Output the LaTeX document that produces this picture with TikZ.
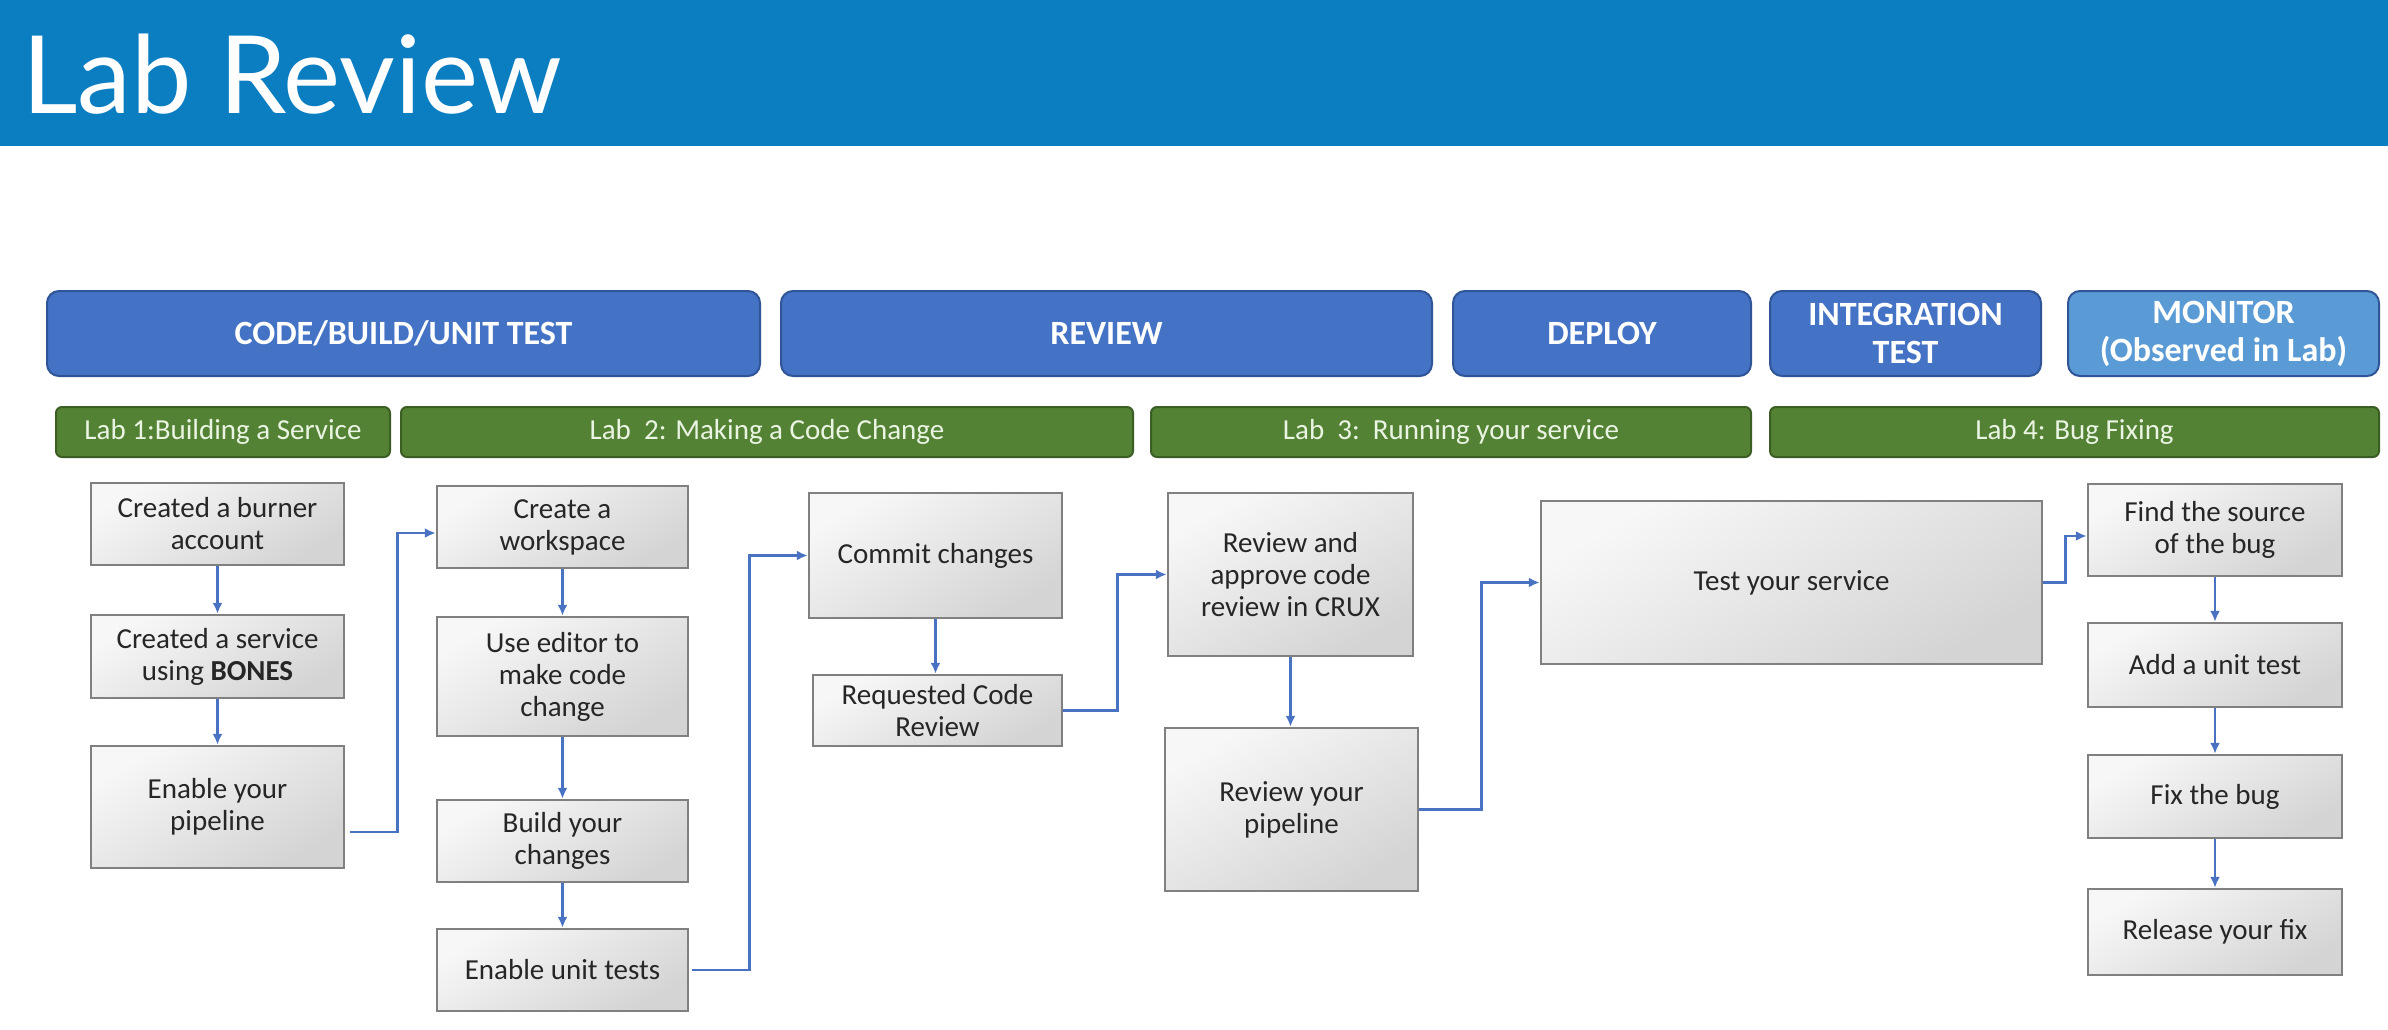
\documentclass[tikz,border=0pt]{standalone}
\usepackage{fontspec}
\setmainfont{Carlito}
\newfontfamily\titlefont{Lato}
\usetikzlibrary{arrows.meta,calc}
\definecolor{hdr}{HTML}{0B7DC1}
\definecolor{phasec}{HTML}{4472C4}
\definecolor{phasedk}{HTML}{2F5597}
\definecolor{monc}{HTML}{5B9BD5}
\definecolor{labg}{HTML}{548235}
\definecolor{labdk}{HTML}{3B5E25}
\definecolor{labtxt}{HTML}{EAF4E2}
\definecolor{arrowblue}{HTML}{4A72C2}
\definecolor{boxline}{HTML}{808080}
\definecolor{boxtxt}{HTML}{262626}
\begin{document}
\begin{tikzpicture}[x=1pt,y=-1pt,
  phasebox/.style={draw=phasedk, line width=2pt, fill=phasec, rounded corners=12pt,
    minimum height=85pt, text=white, font=\fontsize{34}{38}\selectfont\bfseries,
    align=center, inner sep=0pt},
  labbox/.style={draw=labdk, line width=2pt, fill=labg, rounded corners=6pt,
    minimum height=50pt, text=labtxt, font=\fontsize{29}{32}\selectfont, inner sep=0pt},
  pbox/.style={draw=boxline, line width=2.5pt, top color=white!97!black,
    bottom color=black!17, shading angle=30, text=boxtxt,
    font=\fontsize{29}{32}\selectfont, align=center, inner sep=0pt},
  flow/.style={draw=arrowblue, line width=2.5pt, -{Latex[length=11pt,width=10pt]}},
]
\useasboundingbox (0,0) rectangle (2388,1029);
\fill[white] (0,0) rectangle (2388,1029);
\fill[hdr] (0,0) rectangle (2388,146);
\node[anchor=base west, inner sep=0pt, text=white,
  font=\titlefont\fontsize{108}{120}\selectfont] (title) at (22,113) {Lab Review};

% phase bars
\node[phasebox, minimum width=713pt] (ph1) at (403.5,333.5) {CODE/BUILD/UNIT TEST};
\node[phasebox, minimum width=651pt] (ph2) at (1106.5,333.5) {REVIEW};
\node[phasebox, minimum width=298pt] (ph3) at (1602,333.5) {DEPLOY};
\node[phasebox, minimum width=271pt] (ph4) at (1905.5,333.5) {INTEGRATION\\TEST};
\node[phasebox, fill=monc, minimum width=311pt] (ph5) at (2223.5,333.5) {MONITOR\\(Observed in Lab)};

% lab bars
\node[labbox, minimum width=334pt] (lab1) at (223,432) {Lab 1:Building a Service};
\node[labbox, minimum width=732pt] (lab2) at (767,432) {Lab\ \ 2: Making a Code Change};
\node[labbox, minimum width=600pt] (lab3) at (1451,432) {Lab\ \ 3:\ \ Running your service};
\node[labbox, minimum width=609pt] (lab4) at (2074.5,432) {Lab 4: Bug Fixing};

% column 1
\node[pbox, minimum width=253pt, minimum height=82pt] (a1) at (217.5,524) {Created a burner\\account};
\node[pbox, minimum width=253pt, minimum height=83pt] (a2) at (217.5,656.5) {Created a service\\using \textbf{BONES}};
\node[pbox, minimum width=253pt, minimum height=122pt] (a3) at (217.5,807) {Enable your\\pipeline};

% column 2
\node[pbox, minimum width=251pt, minimum height=82pt] (w1) at (562.5,527) {Create a\\workspace};
\node[pbox, minimum width=251pt, minimum height=119pt] (w2) at (562.5,676.5) {Use editor to\\make code\\change};
\node[pbox, minimum width=251pt, minimum height=82pt] (w3) at (562.5,841) {Build your\\changes};
\node[pbox, minimum width=251pt, minimum height=82pt] (w4) at (562.5,970) {Enable unit tests};

% column 3
\node[pbox, minimum width=253pt, minimum height=125pt] (c1) at (935.5,555.5) {Commit changes};
\node[pbox, minimum width=249pt, minimum height=71pt] (c2) at (937.5,710.5) {Requested Code\\Review};

% column 4
\node[pbox, minimum width=245pt, minimum height=163pt] (r1) at (1290.5,574.5) {Review and\\approve code\\review in CRUX};
\node[pbox, minimum width=253pt, minimum height=163pt] (r2) at (1291.5,809.5) {Review your\\pipeline};

% column 5
\node[pbox, minimum width=501pt, minimum height=163pt] (t1) at (1791.5,582.5) {Test your service};

% column 6
\node[pbox, minimum width=254pt, minimum height=92pt] (f1) at (2215,530) {Find the source\\of the bug};
\node[pbox, minimum width=254pt, minimum height=84pt] (f2) at (2215,665) {Add a unit test};
\node[pbox, minimum width=254pt, minimum height=83pt] (f3) at (2215,796.5) {Fix the bug};
\node[pbox, minimum width=254pt, minimum height=86pt] (f4) at (2215,932) {Release your fix};

% connectors
\draw[flow] (a1.south) -- (a2.north);
\draw[flow] (a2.south) -- (a3.north);
\draw[flow] ($(a3.east)+(5,25)$) -- ++(47,0) |- ($(w1.west)+(0,6)$);
\draw[flow] (w1.south) -- (w2.north);
\draw[flow] (w2.south) -- (w3.north);
\draw[flow] (w3.south) -- (w4.north);
\draw[flow] ($(w4.east)+(3,0)$) -- ++(57,0) |- (c1.west);
\draw[flow] (c1.south) -- (c1.south |- c2.north);
\draw[flow] (c2.east) -- ++(54,0) |- (r1.west);
\draw[flow] (r1.south) -- (r1.south |- r2.north);
\draw[flow] (r2.east) -- ++(62,0) |- (t1.west);
\draw[flow] (t1.east) -- ++(22,0) |- ($(f1.west)+(0,6)$);
\draw[flow] (f1.south) -- (f2.north);
\draw[flow] (f2.south) -- (f3.north);
\draw[flow] (f3.south) -- (f4.north);
\end{tikzpicture}
\end{document}
